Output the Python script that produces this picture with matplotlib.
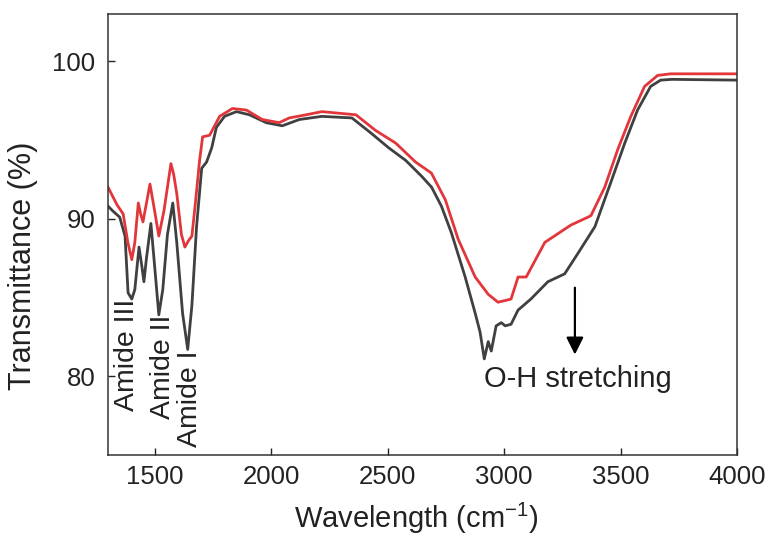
import matplotlib
matplotlib.use("Agg")
import matplotlib.pyplot as plt
import numpy as np

plt.rcParams['font.family'] = ['Liberation Sans', 'DejaVu Sans']
plt.rcParams['mathtext.fontset'] = 'custom'
plt.rcParams['mathtext.rm'] = 'Liberation Sans'

# dark (grey) spectrum, wavenumber vs transmittance
dark_x = [1300, 1320, 1350, 1373, 1386, 1402, 1415, 1433, 1445, 1454, 1465, 1484,
          1500, 1518, 1535, 1555, 1578, 1595, 1620, 1642, 1660, 1680, 1702, 1723,
          1745, 1765, 1800, 1851, 1907, 1979, 2048, 2121, 2218, 2347, 2432, 2505,
          2578, 2646, 2689, 2731, 2774, 2833, 2876, 2897, 2915, 2932, 2945, 2966,
          2988, 3005, 3030, 3060, 3115, 3188, 3260, 3317, 3390, 3458, 3518, 3573,
          3629, 3672, 3720, 4000]
dark_y = [90.8, 90.5, 90.1, 88.9, 85.3, 84.9, 85.5, 88.2, 87.0, 86.0, 87.5, 89.7,
          87.0, 83.9, 85.5, 89.0, 91.0, 88.5, 84.0, 81.7, 84.5, 89.5, 93.2, 93.6,
          94.5, 95.8, 96.5, 96.8, 96.6, 96.1, 95.9, 96.3, 96.5, 96.4, 95.4, 94.5,
          93.7, 92.7, 92.0, 90.8, 89.1, 86.3, 84.0, 82.8, 81.1, 82.2, 81.6, 83.2,
          83.4, 83.2, 83.3, 84.2, 84.9, 86.0, 86.5, 87.8, 89.5, 92.3, 94.8, 96.9,
          98.4, 98.8, 98.85, 98.8]

# red spectrum
red_x = [1300, 1338, 1365, 1385, 1402, 1415, 1430, 1440, 1450, 1465, 1480, 1500,
         1518, 1540, 1570, 1582, 1595, 1615, 1630, 1645, 1660, 1675, 1693, 1706,
         1736, 1779, 1834, 1894, 1962, 2035, 2078, 2150, 2218, 2364, 2449, 2535,
         2620, 2688, 2748, 2803, 2876, 2932, 2974, 3030, 3060, 3095, 3175, 3287,
         3360, 3373, 3432, 3488, 3544, 3603, 3659, 3714, 4000]
red_y = [92.0, 90.9, 90.3, 88.5, 87.4, 88.5, 91.0, 90.3, 89.8, 91.0, 92.2, 90.5,
         88.9, 90.5, 93.5, 92.8, 91.6, 89.0, 88.2, 88.6, 88.9, 91.0, 93.7, 95.2,
         95.3, 96.5, 97.0, 96.9, 96.3, 96.1, 96.4, 96.6, 96.8, 96.6, 95.6, 94.8,
         93.6, 92.9, 91.2, 88.7, 86.3, 85.2, 84.7, 84.9, 86.3, 86.3, 88.5, 89.6,
         90.1, 90.2, 92.0, 94.4, 96.5, 98.4, 99.1, 99.2, 99.2]

x_ticks = [1500, 2000, 2500, 3000, 3500, 4000]
y_ticks = [80, 90, 100]

amide_labels = ['Amide III', 'Amide II', 'Amide I']
amide_pos = [(1381, 77.8), (1535, 77.3), (1650, 75.5)]

fig = plt.figure(figsize=(7.7, 5.38), dpi=100)
ax = fig.add_axes([0.1403, 0.1543, 0.8169, 0.8197])

ax.plot(dark_x, dark_y, color='#404040', lw=2.0)
ax.plot(red_x, red_y, color='#e2363b', lw=2.0)

ax.set_xlim(1300, 4000)
ax.set_ylim(75, 103)
ax.set_xticks(x_ticks)
ax.set_yticks(y_ticks)
ax.tick_params(direction='in', length=5, width=1, labelsize=18.5, colors='#222222')
ax.tick_params(axis='y', pad=9)
ax.tick_params(axis='x', pad=7)
for s in ax.spines.values():
    s.set_color('#333333')
    s.set_linewidth(1.1)

ax.set_xlabel('Wavelength (cm$^{\\mathregular{-1}}$)', fontsize=21, color='#222222')
ax.set_ylabel('Transmittance (%)', fontsize=22, color='#222222')
ax.yaxis.set_label_coords(-0.112, 0.43)
ax.xaxis.set_label_coords(0.49, -0.104)

for lab, (xx, yy) in zip(amide_labels, amide_pos):
    ax.text(xx, yy, lab, rotation=90, ha='center', va='bottom', fontsize=20.5, color='#222222')

ax.annotate('', xy=(3304, 81.2), xytext=(3304, 85.8),
            arrowprops=dict(arrowstyle='-|>', color='black', lw=1.6, mutation_scale=26))
ax.text(2915, 79.8, 'O-H stretching', ha='left', va='center', fontsize=21, color='#222222')

fig.savefig('out.png', dpi=100)
